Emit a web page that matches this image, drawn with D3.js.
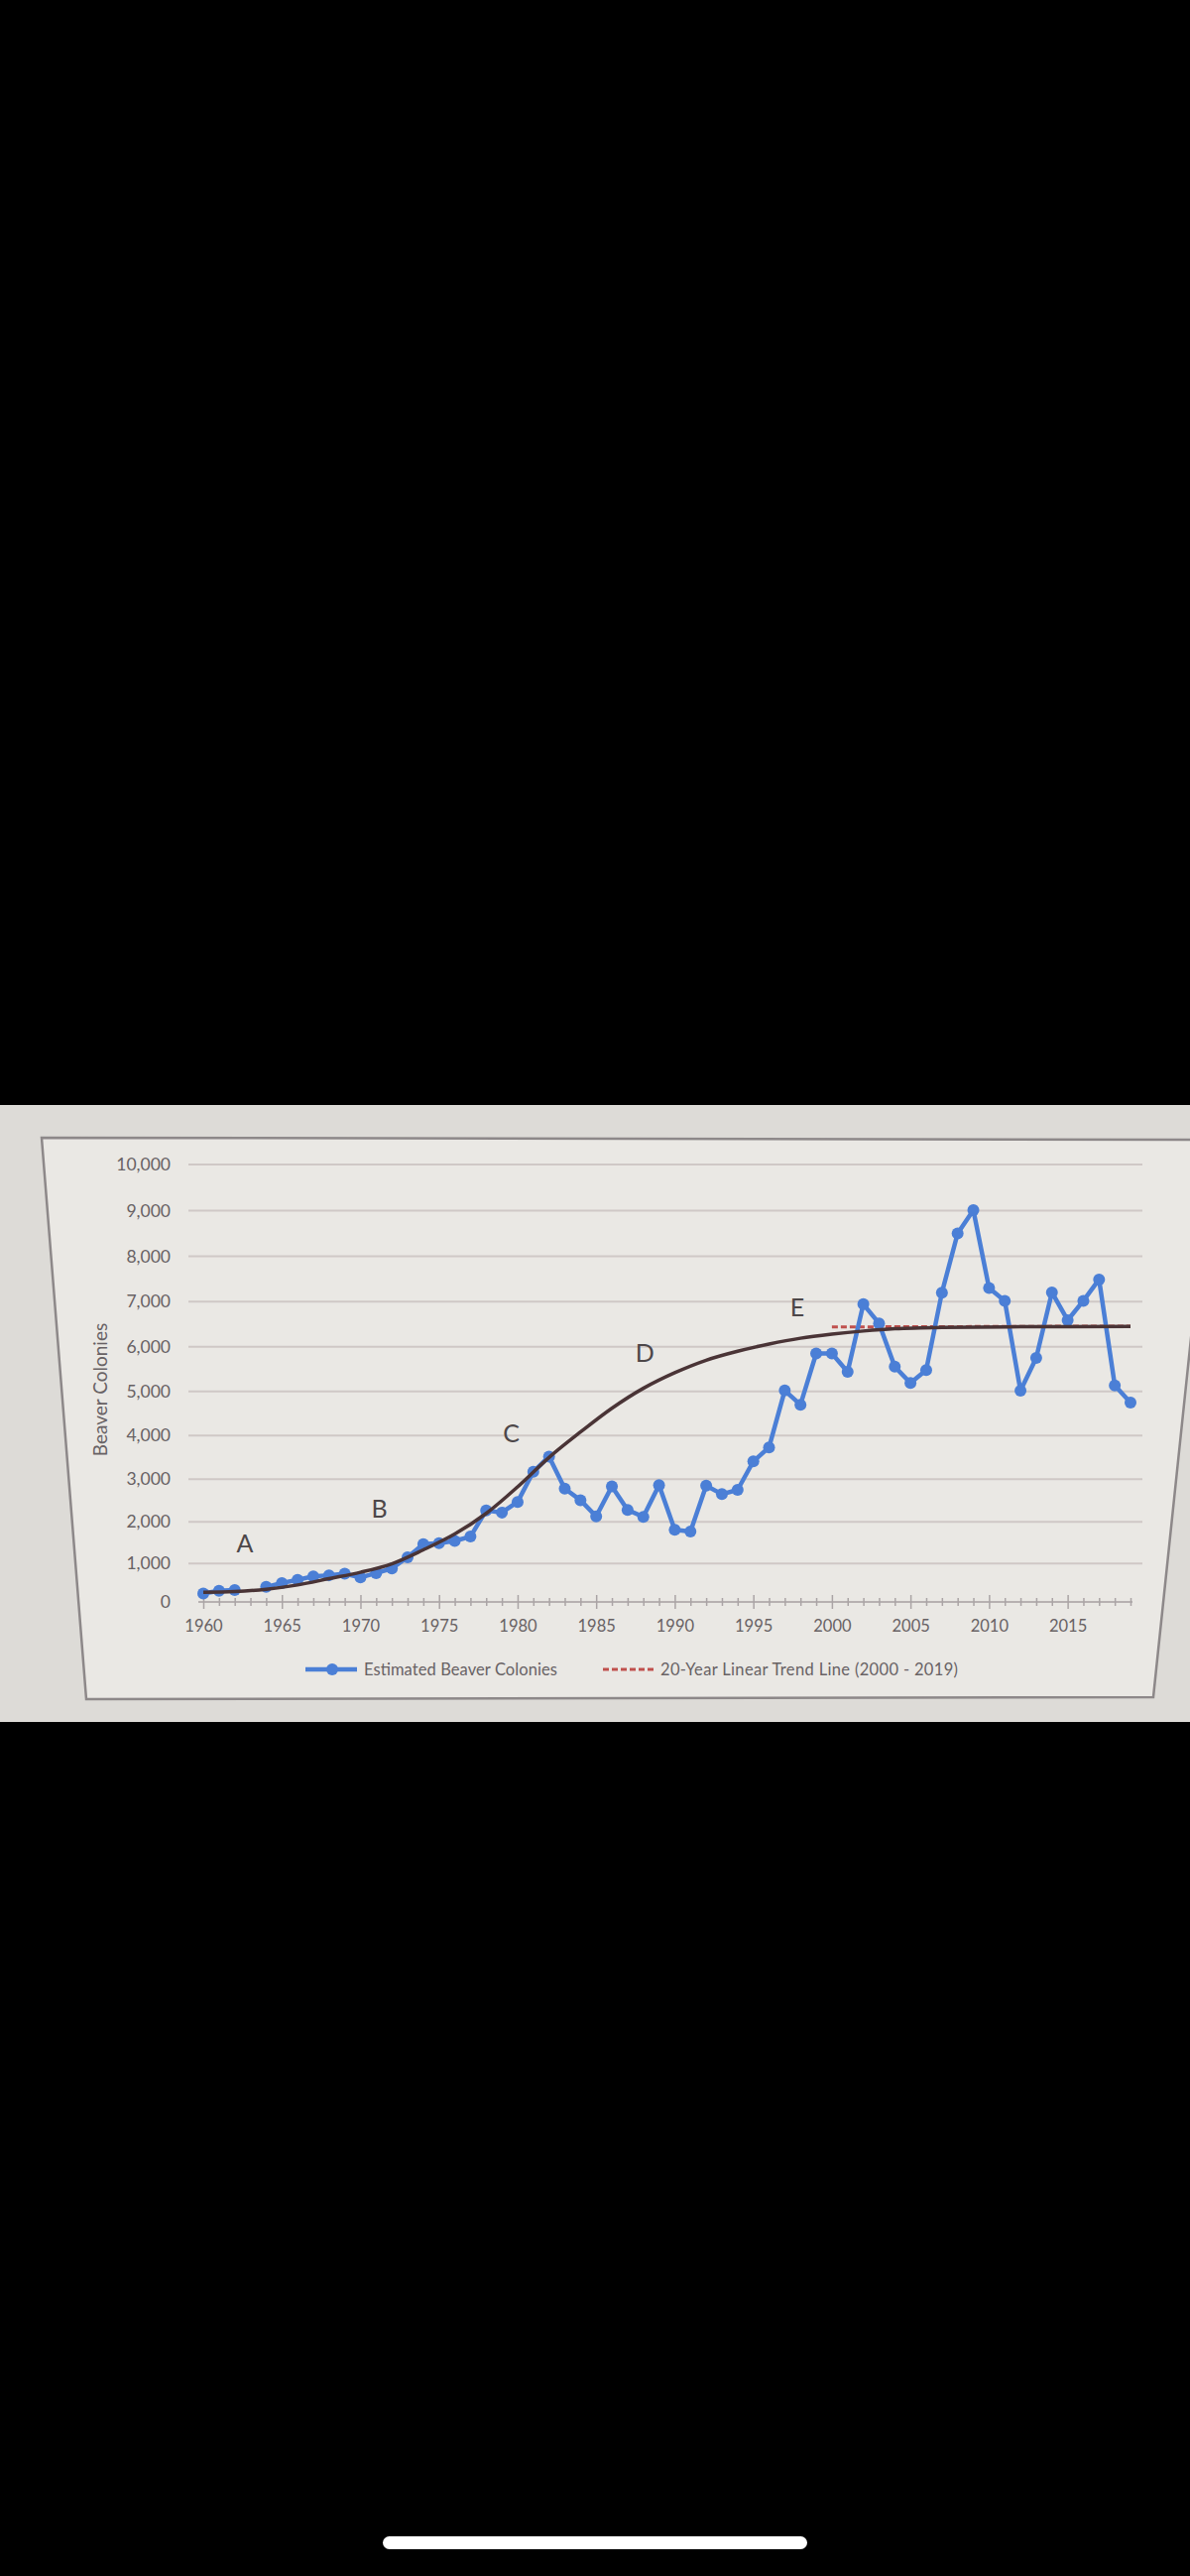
<!DOCTYPE html>
<html><head><meta charset="utf-8">
<script src="https://cdn.jsdelivr.net/npm/d3@7"></script>
<style>html,body{margin:0;padding:0;background:#000;} svg{display:block;}</style>
</head><body><svg id="c" width="1200" height="2597"></svg>
<script>
// ---------- data ----------
const years = [1960,1961,1962,1963,1964,1965,1966,1967,1968,1969,
  1970,1971,1972,1973,1974,1975,1976,1977,1978,1979,
  1980,1981,1982,1983,1984,1985,1986,1987,1988,1989,
  1990,1991,1992,1993,1994,1995,1996,1997,1998,1999,
  2000,2001,2002,2003,2004,2005,2006,2007,2008,2009,
  2010,2011,2012,2013,2014,2015,2016,2017,2018,2019];
const colonies = [235,310,330,null,410,510,590,680,705,745,
  650,760,875,1150,1470,1490,1545,1650,2270,2220,
  2470,3170,3520,2780,2510,2130,2830,2280,2120,2860,
  1810,1770,2850,2650,2750,3410,3730,5020,4700,5850,
  5850,5440,6945,6520,5555,5190,5480,7200,8500,9010,
  7300,7020,5015,5750,7205,6590,7020,7490,5135,4750];
const curveYears  = [1960,1962,1964,1966,1968,1970,1972,1974,1976,1978,1980,1982,1984,1986,1988,1990,1992,1994,1996,1998,2000,2002,2004,2007,2012,2019];
const curveValues = [270,290,350,460,620,780,990,1330,1710,2200,2820,3500,4080,4620,5070,5420,5700,5900,6060,6190,6280,6350,6400,6430,6445,6450];
const trendYears  = [2000, 2019];
const trendValues = [6440, 6460];
const yTicks = [0,1000,2000,3000,4000,5000,6000,7000,8000,9000,10000];
const xTickLabels = [1960,1965,1970,1975,1980,1985,1990,1995,2000,2005,2010,2015];
const annLabels = ["A","B","C","D","E"];
const annYears  = [1962.65,1971.2,1979.6,1988.1,1997.8];
const annValues = [1510,2330,4075,5880,6900];
const seriesNames = ["Estimated Beaver Colonies","20-Year Linear Trend Line (2000 - 2019)"];

// ---------- drawing ----------
const svg = d3.select("#c");
const FONT = "Lato, 'Open Sans', sans-serif";
const TXT = "#686264";
const BLUE = "#4b7fd6";
const DARK = "#4a3436";
const RED = "#c0504d";

// photo background
svg.append("rect").attr("x",0).attr("y",0).attr("width",1200).attr("height",2597).attr("fill","#000");
svg.append("rect").attr("x",0).attr("y",1114).attr("width",1200).attr("height",622).attr("fill","#dddbd7");
svg.append("polygon")
  .attr("points","42,1147 1222,1149 1163,1711 87,1713")
  .attr("fill","#eae8e4").attr("stroke","#8d8889").attr("stroke-width",2.5);
// phone home indicator
svg.append("rect").attr("x",386).attr("y",2557).attr("width",428).attr("height",13).attr("rx",6.5).attr("fill","#fff");

const x = d3.scaleLinear().domain([1960,2019]).range([205,1140]);
const y = d3.scalePow().exponent(1.055).domain([0,10000]).range([1615,1174]);

// gridlines
svg.append("g").selectAll("line").data(yTicks.filter(d=>d>0)).join("line")
  .attr("x1",190).attr("x2",1152)
  .attr("y1",d=>y(d)).attr("y2",d=>y(d))
  .attr("stroke","#cfc8c6").attr("stroke-width",2);

// x axis with crossing ticks
const xAxisG = svg.append("g").attr("transform",`translate(0,${y(0)})`)
  .call(d3.axisBottom(x).tickValues(years).tickFormat("").tickSizeOuter(0));
xAxisG.select(".domain").attr("stroke","#b7b1b1").attr("stroke-width",2).attr("d",`M${x(1960)-5},0H${x(2019)+2}`);
xAxisG.selectAll(".tick line")
  .attr("stroke","#aaa4a5").attr("stroke-width",1.5)
  .attr("y1",d=>xTickLabels.includes(d)?-7:-4)
  .attr("y2",d=>xTickLabels.includes(d)?7:4);

// x labels
const xl = svg.append("g").attr("transform",`translate(0,${y(0)})`)
  .call(d3.axisBottom(x).tickValues(xTickLabels).tickFormat(d3.format("d")).tickSize(0).tickPadding(18));
xl.select(".domain").remove();
xl.selectAll("text").attr("font-family",FONT).attr("font-size",16.5).attr("fill",TXT);

// y labels
const yl = svg.append("g").attr("transform","translate(178,0)")
  .call(d3.axisLeft(y).tickValues(yTicks).tickFormat(d3.format(",")).tickSize(0).tickPadding(6));
yl.select(".domain").remove();
yl.selectAll("text").attr("font-family",FONT).attr("font-size",17.5).attr("fill",TXT);

// y title
svg.append("text").attr("transform","translate(108,1401) rotate(-90)")
  .attr("text-anchor","middle").attr("font-family",FONT).attr("font-size",19).attr("fill",TXT)
  .text("Beaver Colonies");

// trend dashed line
svg.append("path")
  .attr("d", d3.line().x((d,i)=>x(trendYears[i])).y(d=>y(d))(trendValues))
  .attr("fill","none").attr("stroke",RED).attr("stroke-width",3).attr("stroke-dasharray","6,3");

// blue series
const pts = years.map((yr,i)=>({yr, v:colonies[i]}));
svg.append("path")
  .attr("d", d3.line().defined(d=>d.v!=null).x(d=>x(d.yr)).y(d=>y(d.v))(pts))
  .attr("fill","none").attr("stroke",BLUE).attr("stroke-width",4.5).attr("stroke-linejoin","round");
svg.append("g").selectAll("circle").data(pts.filter(d=>d.v!=null)).join("circle")
  .attr("cx",d=>x(d.yr)).attr("cy",d=>y(d.v)).attr("r",6).attr("fill",BLUE);

// logistic curve
svg.append("path")
  .attr("d", d3.line().curve(d3.curveCatmullRom.alpha(0.5)).x((d,i)=>x(curveYears[i])).y(d=>y(d))(curveValues))
  .attr("fill","none").attr("stroke",DARK).attr("stroke-width",3.5);

// annotations
svg.append("g").selectAll("text").data(annLabels).join("text")
  .attr("x",(d,i)=>x(annYears[i])).attr("y",(d,i)=>y(annValues[i]))
  .attr("text-anchor","middle").attr("dominant-baseline","central")
  .attr("font-family",FONT).attr("font-size",25).attr("fill","#4d4749")
  .text(d=>d);

// legend
const lg = svg.append("g").attr("transform","translate(0,1683)");
lg.append("line").attr("x1",308).attr("x2",360).attr("y1",0).attr("y2",0).attr("stroke",BLUE).attr("stroke-width",4.5);
lg.append("circle").attr("cx",335).attr("cy",0).attr("r",6).attr("fill",BLUE);
lg.append("text").attr("x",367).attr("y",0).attr("dominant-baseline","central")
  .attr("font-family",FONT).attr("font-size",16.5).attr("fill",TXT)
  .attr("textLength",195).attr("lengthAdjust","spacing").text(seriesNames[0]);
lg.append("line").attr("x1",608).attr("x2",661).attr("y1",0).attr("y2",0).attr("stroke",RED).attr("stroke-width",3).attr("stroke-dasharray","6,3");
lg.append("text").attr("x",666).attr("y",0).attr("dominant-baseline","central")
  .attr("font-family",FONT).attr("font-size",16.5).attr("fill",TXT)
  .attr("textLength",300).attr("lengthAdjust","spacing").text(seriesNames[1]);
</script></body></html>
